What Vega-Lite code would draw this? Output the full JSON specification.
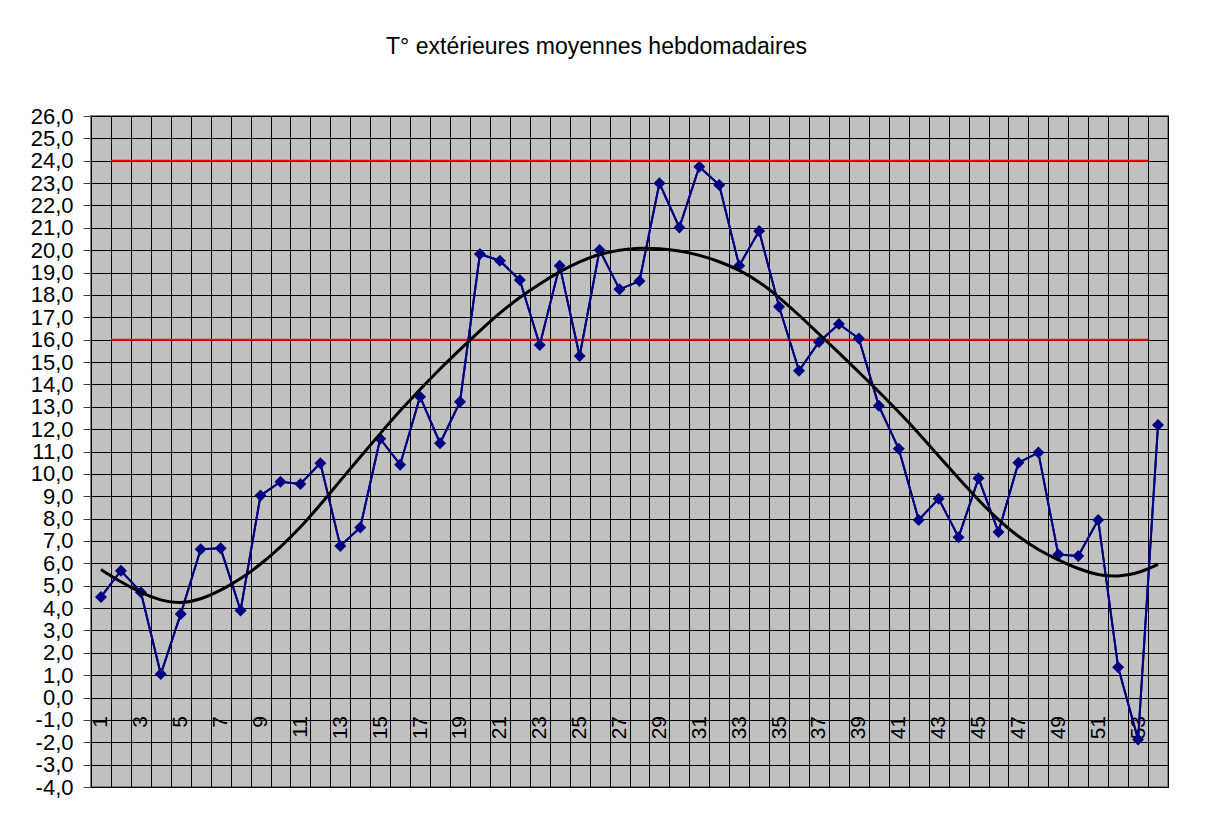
{
  "$schema": "https://vega.github.io/schema/vega-lite/v6.json",
  "width": 1077,
  "height": 671,
  "autosize": {"type": "none"},
  "padding": {"left": 91, "top": 116, "right": 41, "bottom": 29},
  "background": "white",
  "title": {
    "text": "T° extérieures moyennes hebdomadaires",
    "font": "Liberation Sans",
    "fontSize": 23,
    "fontWeight": "normal",
    "color": "black",
    "anchor": "middle",
    "frame": "group",
    "dx": -33,
    "offset": 46
  },
  "config": {
    "view": {"fill": "#C0C0C0", "stroke": "#808080", "strokeWidth": 2}
  },
  "data": {
    "values": [
      {"semaine": 1, "t": 4.5, "tendance": 5.72},
      {"semaine": 2, "t": 5.67, "tendance": 5.16},
      {"semaine": 3, "t": 4.71, "tendance": 4.68},
      {"semaine": 4, "t": 1.05, "tendance": 4.33},
      {"semaine": 5, "t": 3.74, "tendance": 4.2},
      {"semaine": 6, "t": 6.63, "tendance": 4.38},
      {"semaine": 7, "t": 6.67, "tendance": 4.78},
      {"semaine": 8, "t": 3.89, "tendance": 5.3},
      {"semaine": 9, "t": 9.03, "tendance": 5.95},
      {"semaine": 10, "t": 9.65, "tendance": 6.72},
      {"semaine": 11, "t": 9.55, "tendance": 7.6},
      {"semaine": 12, "t": 10.48, "tendance": 8.62},
      {"semaine": 13, "t": 6.78, "tendance": 9.7},
      {"semaine": 14, "t": 7.6, "tendance": 10.76},
      {"semaine": 15, "t": 11.57, "tendance": 11.8},
      {"semaine": 16, "t": 10.41, "tendance": 12.83},
      {"semaine": 17, "t": 13.45, "tendance": 13.78},
      {"semaine": 18, "t": 11.37, "tendance": 14.7},
      {"semaine": 19, "t": 13.22, "tendance": 15.56},
      {"semaine": 20, "t": 19.83, "tendance": 16.4},
      {"semaine": 21, "t": 19.53, "tendance": 17.2},
      {"semaine": 22, "t": 18.67, "tendance": 17.9},
      {"semaine": 23, "t": 15.76, "tendance": 18.5},
      {"semaine": 24, "t": 19.31, "tendance": 19.05},
      {"semaine": 25, "t": 15.27, "tendance": 19.5},
      {"semaine": 26, "t": 20.01, "tendance": 19.83},
      {"semaine": 27, "t": 18.25, "tendance": 20.02},
      {"semaine": 28, "t": 18.62, "tendance": 20.1},
      {"semaine": 29, "t": 22.99, "tendance": 20.08},
      {"semaine": 30, "t": 21.02, "tendance": 19.98},
      {"semaine": 31, "t": 23.73, "tendance": 19.78},
      {"semaine": 32, "t": 22.91, "tendance": 19.5},
      {"semaine": 33, "t": 19.31, "tendance": 19.12},
      {"semaine": 34, "t": 20.86, "tendance": 18.6},
      {"semaine": 35, "t": 17.47, "tendance": 17.9},
      {"semaine": 36, "t": 14.61, "tendance": 17.1},
      {"semaine": 37, "t": 15.9, "tendance": 16.25},
      {"semaine": 38, "t": 16.7, "tendance": 15.42},
      {"semaine": 39, "t": 16.05, "tendance": 14.55},
      {"semaine": 40, "t": 13.04, "tendance": 13.68},
      {"semaine": 41, "t": 11.12, "tendance": 12.77},
      {"semaine": 42, "t": 7.94, "tendance": 11.82},
      {"semaine": 43, "t": 8.89, "tendance": 10.8},
      {"semaine": 44, "t": 7.17, "tendance": 9.8},
      {"semaine": 45, "t": 9.8, "tendance": 8.82},
      {"semaine": 46, "t": 7.4, "tendance": 7.93},
      {"semaine": 47, "t": 10.5, "tendance": 7.18},
      {"semaine": 48, "t": 10.95, "tendance": 6.6},
      {"semaine": 49, "t": 6.39, "tendance": 6.15},
      {"semaine": 50, "t": 6.33, "tendance": 5.75},
      {"semaine": 51, "t": 7.94, "tendance": 5.47},
      {"semaine": 52, "t": 1.35, "tendance": 5.4},
      {"semaine": 53, "t": -1.88, "tendance": 5.55},
      {"semaine": 54, "t": 12.19, "tendance": 5.95}
    ]
  },
  "layer": [
    {
      "mark": {"type": "line", "color": "#000080", "strokeWidth": 2},
      "encoding": {
        "x": {
          "field": "semaine",
          "type": "quantitative",
          "title": null,
          "scale": {"domain": [0.5, 54.5], "nice": false, "zero": false},
          "axis": {
            "title": null,
            "values": [0.5,1.5,2.5,3.5,4.5,5.5,6.5,7.5,8.5,9.5,10.5,11.5,12.5,13.5,14.5,15.5,16.5,17.5,18.5,19.5,20.5,21.5,22.5,23.5,24.5,25.5,26.5,27.5,28.5,29.5,30.5,31.5,32.5,33.5,34.5,35.5,36.5,37.5,38.5,39.5,40.5,41.5,42.5,43.5,44.5,45.5,46.5,47.5,48.5,49.5,50.5,51.5,52.5,53.5,54.5],
            "tickCount": 200,
            "grid": true,
            "gridColor": "#000000",
            "gridWidth": 1,
            "gridOpacity": 1,
            "domain": false,
            "ticks": false,
            "tickSize": 0,
            "offset": -89.5,
            "labelExpr": "((datum.value + 0.5) % 2 == 1 && datum.value < 54) ? '' + (datum.value + 0.5) : ''",
            "labelOffset": 9.97,
            "labelAngle": 270,
            "labelAlign": "right",
            "labelBaseline": "middle",
            "labelPadding": 18,
            "labelFont": "Liberation Sans",
            "labelFontSize": 21,
            "labelColor": "#000000",
            "labelOverlap": false,
            "labelFlush": false,
            "labelBound": false,
            "zindex": 0
          }
        },
        "y": {
          "field": "t",
          "type": "quantitative",
          "title": null,
          "scale": {"domain": [-4, 26], "nice": false, "zero": false},
          "axis": {
            "title": null,
            "values": [-4,-3,-2,-1,0,1,2,3,4,5,6,7,8,9,10,11,12,13,14,15,16,17,18,19,20,21,22,23,24,25,26],
            "tickCount": 200,
            "grid": true,
            "gridColor": "#000000",
            "gridWidth": 1,
            "gridOpacity": 1,
            "domain": false,
            "ticks": true,
            "tickSize": 8,
            "tickColor": "#404040",
            "tickWidth": 1,
            "labelPadding": 10,
            "labelExpr": "replace(replace(format(datum.value, '.1f'), '.', ','), '\u2212', '-')",
            "labelFont": "Liberation Sans",
            "labelFontSize": 22,
            "labelColor": "#000000",
            "labelOverlap": false,
            "labelFlush": false,
            "labelBound": false,
            "zindex": 0
          }
        }
      }
    },
    {
      "data": {"values": [{"seuil": 16}, {"seuil": 24}]},
      "mark": {"type": "rule", "color": "#FF0000", "strokeWidth": 2},
      "encoding": {
        "x": {"datum": 1.5, "type": "quantitative"},
        "x2": {"datum": 53.5},
        "y": {"field": "seuil", "type": "quantitative", "title": null}
      }
    },
    {
      "mark": {"type": "line", "color": "#000080", "strokeWidth": 2},
      "encoding": {
        "x": {"field": "semaine", "type": "quantitative", "title": null},
        "y": {"field": "t", "type": "quantitative", "title": null}
      }
    },
    {
      "mark": {"type": "point", "shape": "diamond", "filled": true, "size": 144, "color": "#000080", "opacity": 1},
      "encoding": {
        "x": {"field": "semaine", "type": "quantitative", "title": null},
        "y": {"field": "t", "type": "quantitative", "title": null}
      }
    },
    {
      "mark": {"type": "line", "color": "#000000", "strokeWidth": 3, "interpolate": "basis"},
      "encoding": {
        "x": {"field": "semaine", "type": "quantitative", "title": null},
        "y": {"field": "tendance", "type": "quantitative", "title": null}
      }
    }
  ]
}
